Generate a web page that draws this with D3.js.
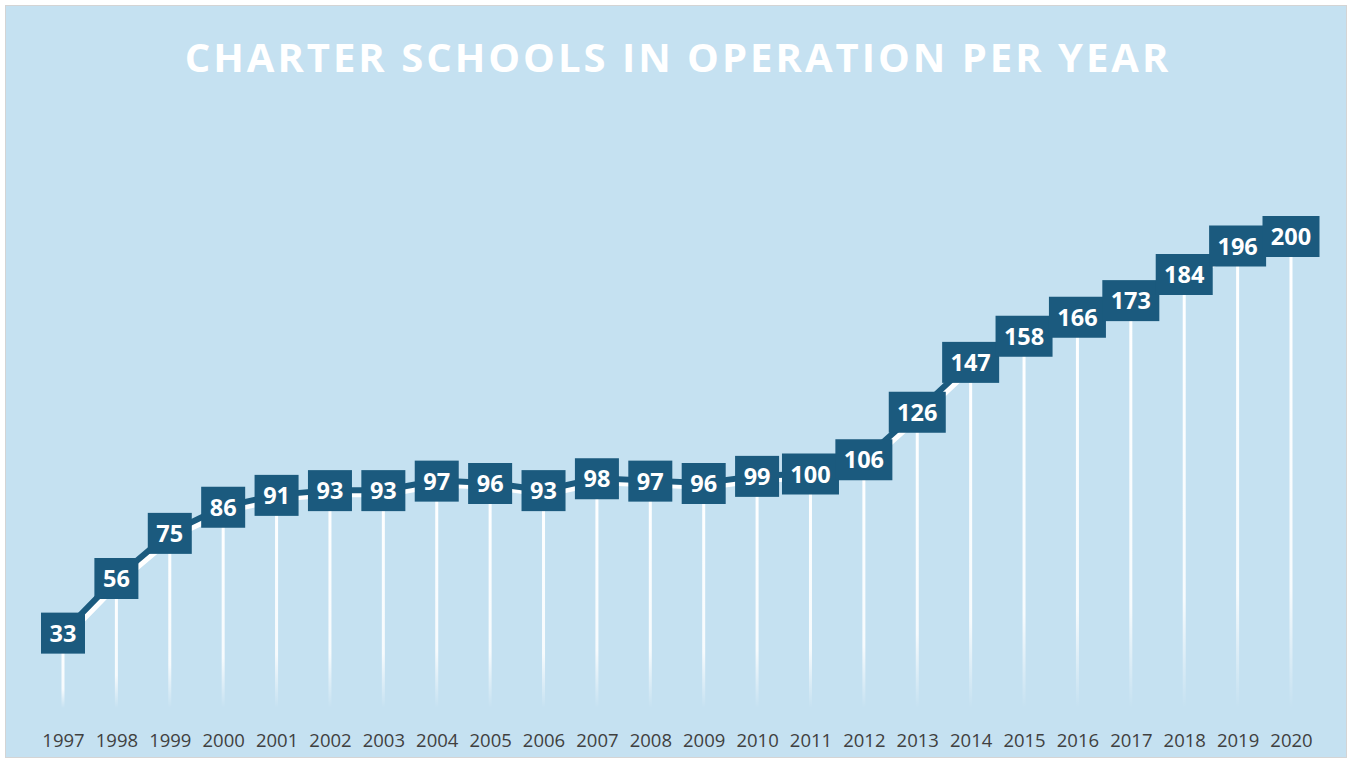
<!DOCTYPE html>
<html>
<head>
<meta charset="utf-8">
<script src="https://cdn.jsdelivr.net/npm/d3@7"></script>
<style>
    body { margin: 0; background: #ffffff; }
    #chart svg { display: block; }
</style>
</head>
<body>
<div id="chart"></div>
<script>
// chart data
const years = ["1997", "1998", "1999", "2000", "2001", "2002", "2003", "2004", "2005", "2006", "2007", "2008",
    "2009", "2010", "2011", "2012", "2013", "2014", "2015", "2016", "2017", "2018", "2019", "2020"];
const schools = [33, 56, 75, 86, 91, 93, 93, 97, 96, 93, 98, 97, 96, 99, 100, 106, 126, 147, 158, 166, 173, 184, 196, 200];
const chartTitle = "CHARTER SCHOOLS IN OPERATION PER YEAR";

const data = years.map((y, i) => ({ year: y, value: schools[i] }));

const W = 1352, H = 763;
const dark = "#1b5a7e";

const svg = d3.select("#chart").append("svg")
    .attr("width", W)
    .attr("height", H);

// gradient for the drop lines
const defs = svg.append("defs");
const grad = defs.append("linearGradient")
    .attr("id", "dropGrad")
    .attr("x1", 0).attr("y1", 0).attr("x2", 0).attr("y2", 1);
grad.append("stop").attr("offset", "0%").attr("stop-color", "#ffffff").attr("stop-opacity", 1);
grad.append("stop").attr("offset", "75%").attr("stop-color", "#ffffff").attr("stop-opacity", 0.85);
grad.append("stop").attr("offset", "100%").attr("stop-color", "#ffffff").attr("stop-opacity", 0);

// background panel
svg.append("rect")
    .attr("x", 5.5).attr("y", 5.5)
    .attr("width", W - 11).attr("height", H - 11)
    .attr("fill", "#c5e1f1")
    .attr("stroke", "#d4d4d4")
    .attr("stroke-width", 1);

svg.append("text")
    .attr("x", 678)
    .attr("y", 72)
    .attr("text-anchor", "middle")
    .attr("fill", "#ffffff")
    .style("font-family", "'Open Sans', sans-serif")
    .style("font-weight", "bold")
    .style("font-size", "40px")
    .style("letter-spacing", "3px")
    .text(chartTitle);

// scales
const x = d3.scalePoint()
    .domain(years)
    .range([63, 1291]);

const y = d3.scaleLinear()
    .domain([0, 200])
    .range([711, 236]);

const baseY = 708;

// x axis (labels only)
const xAxis = d3.axisBottom(x).tickSize(0).tickPadding(0);
const xAxisGroup = svg.append("g")
    .attr("transform", "translate(0, 747)")
    .call(xAxis);
xAxisGroup.select(".domain").remove();
xAxisGroup.selectAll("text")
    .attr("dy", 0)
    .attr("fill", "#404040")
    .style("font-family", "'Open Sans', sans-serif")
    .style("font-size", "18.5px");

// drop lines
svg.append("g").selectAll("rect")
    .data(data)
    .enter()
    .append("rect")
    .attr("x", d => x(d.year) - 1.5)
    .attr("y", d => y(d.value))
    .attr("width", 3)
    .attr("height", d => baseY - y(d.value))
    .attr("fill", "url(#dropGrad)");

const line = d3.line()
    .x(d => x(d.year))
    .y(d => y(d.value));

// white shadow under the line
svg.append("path")
    .datum(data)
    .attr("d", line)
    .attr("fill", "none")
    .attr("stroke", "#ffffff")
    .attr("stroke-width", 6)
    .attr("transform", "translate(3, 4)");

svg.append("path")
    .datum(data)
    .attr("d", line)
    .attr("fill", "none")
    .attr("stroke", dark)
    .attr("stroke-width", 6);

// data label boxes
const labels = svg.append("g").selectAll("g")
    .data(data)
    .enter()
    .append("g")
    .attr("transform", d => `translate(${x(d.year)}, ${y(d.value)})`);

labels.append("rect")
    .attr("x", d => d.value >= 100 ? -28.5 : -22)
    .attr("y", -20)
    .attr("width", d => d.value >= 100 ? 57 : 44)
    .attr("height", 41)
    .attr("fill", dark);

labels.append("text")
    .attr("text-anchor", "middle")
    .attr("y", 9)
    .attr("fill", "#ffffff")
    .style("font-family", "'Open Sans', sans-serif")
    .style("font-weight", "bold")
    .style("font-size", "23.5px")
    .text(d => d.value);
</script>
</body>
</html>
